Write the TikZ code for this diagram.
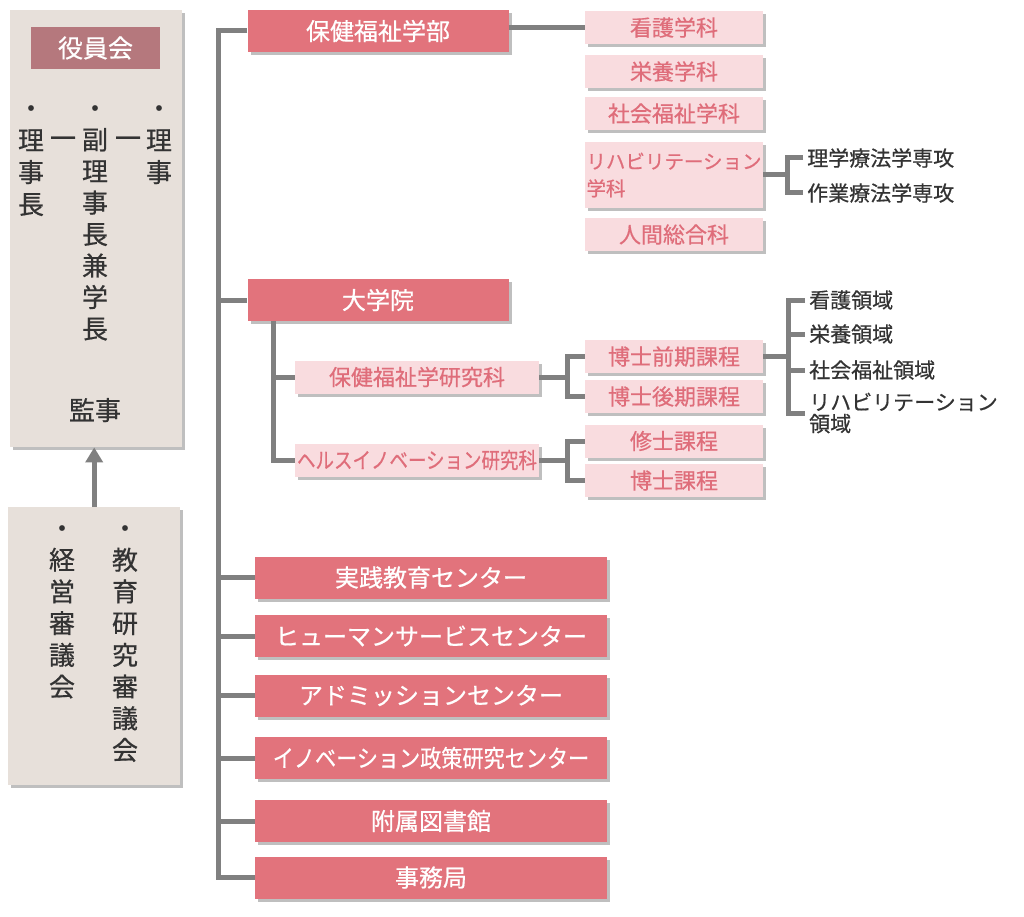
\documentclass[tikz,border=0pt]{standalone}
\usepackage{fontspec}
\usepackage{graphicx}
\usetikzlibrary{shadows,arrows.meta}
\newfontfamily\jp[FakeBold=0.6]{Noto Sans CJK JP}
\definecolor{bigc}{HTML}{E2737C}
\definecolor{smallc}{HTML}{F9DCDF}
\definecolor{smalltxt}{HTML}{DF6D7A}
\definecolor{panelc}{HTML}{E7E0DA}
\definecolor{boardc}{HTML}{B5787D}
\definecolor{linec}{HTML}{808080}
\definecolor{darktxt}{HTML}{333333}

\begin{document}
\begin{tikzpicture}[x=1pt, y=1pt,
  boxshadow/.style={drop shadow={shadow xshift=3pt, shadow yshift=-3pt, fill=black, opacity=0.25}},
  bigbox/.style={rectangle, fill=bigc, boxshadow, text=white, font=\jp\fontsize{24}{28}\selectfont, inner sep=0pt, minimum height=42pt},
  smallbox/.style={rectangle, fill=smallc, boxshadow, text=smalltxt, font=\jp\fontsize{22}{26}\selectfont, inner sep=0pt, minimum width=178pt, minimum height=33pt},
  panel/.style={rectangle, fill=panelc, boxshadow, inner sep=0pt, anchor=north west},
  tatechar/.style={text=darktxt, font=\jp\fontsize{26}{30}\selectfont, inner sep=0pt, text height=22.9pt, text depth=3.1pt},
  leaf/.style={anchor=west, text=darktxt, font=\jp\fontsize{21}{22}\selectfont, inner xsep=4pt, inner ysep=0pt, align=left},
  link/.style={draw=linec, line width=5pt}]

    \useasboundingbox (0,0) rectangle (1024,-917);

    % left panels
    \node[panel, minimum width=172pt, minimum height=437pt] (board) at (10,-10) {};
    \node[rectangle, fill=boardc, text=white, font=\jp\fontsize{25}{28}\selectfont, minimum width=129pt, minimum height=42pt] (boardlbl) at (95.5,-48) {役員会};
    \foreach \kan [count=\i] in {・,理,事,長}
      \node[tatechar] (rij-\i) at (31,{-108-32*(\i-1)}) {\kan};
    \foreach \kan [count=\i] in {・,副,理,事,長,兼,学,長}
      \node[tatechar] (fuk-\i) at (95,{-108-31.5*(\i-1)}) {\kan};
    \foreach \kan [count=\i] in {・,理,事}
      \node[tatechar] (rit-\i) at (159,{-108-32*(\i-1)}) {\kan};
    \node[tatechar] (dash1) at (63,-138) {一};
    \node[tatechar] (dash2) at (128,-138) {一};
    \node[tatechar] (kanji) at (95,-410) {監事};

    \node[panel, minimum width=172pt, minimum height=278pt] (council) at (8,-507) {};
    \foreach \kan [count=\i] in {・,経,営,審,議,会}
      \node[tatechar] (kei-\i) at (62,{-528-31.7*(\i-1)}) {\kan};
    \foreach \kan [count=\i] in {・,教,育,研,究,審,議,会}
      \node[tatechar] (kyo-\i) at (125,{-528-31.7*(\i-1)}) {\kan};

    \draw[link, -{Triangle[width=17pt, length=15pt]}] (council.north) -- (council.north |- board.south);

    % main column
    \node[bigbox, minimum width=261pt] (gakubu) at (378,-31) {保健福祉学部};
    \node[bigbox, minimum width=261pt, below of=gakubu, node distance=269pt] (daigakuin) {大学院};
    \node[bigbox, minimum width=352pt] (jissen) at (431,-577.5) {実践教育センター};
    \node[bigbox, minimum width=352pt, below of=jissen, node distance=58.5pt] (human) {ヒューマンサービスセンター};
    \node[bigbox, minimum width=352pt, below of=human, node distance=59.5pt] (admission) {アドミッションセンター};
    \node[bigbox, minimum width=352pt, below of=admission, node distance=62.5pt] (innov) {\scalebox{0.88}[1]{イノベーション政策研究センター}};
    \node[bigbox, minimum width=352pt, below of=innov, node distance=63pt] (library) {附属図書館};
    \node[bigbox, minimum width=352pt, below of=library, node distance=56.5pt] (jimu) {事務局};
    \coordinate (trunk) at (218,0);

    % departments
    \node[smallbox] (kango) at (674,-27.5) {看護学科};
    \node[smallbox, below of=kango, node distance=44pt] (eiyo) {栄養学科};
    \node[smallbox, below of=eiyo, node distance=42pt] (shakai) {社会福祉学科};
    \node[smallbox, below of=shakai, node distance=61.5pt, minimum height=66pt, align=left, font=\jp\fontsize{19.5}{27}\selectfont] (riha) {リハビリテーション\\学科};
    \node[smallbox, below of=riha, node distance=59.5pt] (ningen) {人間総合科};
    \node[leaf] (rigaku) at (803,-158) {理学療法学専攻};
    \node[leaf] (sagyo) at (803,-193) {作業療法学専攻};
    \coordinate (br0) at (787,0);

    % graduate school
    \node[smallbox, minimum width=244pt] (hofuku) at (417,-377) {保健福祉学研究科};
    \node[smallbox, minimum width=244pt, below of=hofuku, node distance=83pt] (health) {\scalebox{0.84}[1]{ヘルスイノベーション研究科}};
    \node[smallbox] (zenki) at (674,-356.5) {博士前期課程};
    \node[smallbox, below of=zenki, node distance=40pt] (kouki) {博士後期課程};
    \node[smallbox, below of=kouki, node distance=44.5pt] (shushi) {修士課程};
    \node[smallbox, below of=shushi, node distance=39.5pt] (hakase) {博士課程};
    \node[leaf] (kangor) at (805,-300) {看護領域};
    \node[leaf] (eiyor) at (805,-334) {栄養領域};
    \node[leaf] (shakair) at (805,-370) {社会福祉領域};
    \node[leaf, font=\jp\fontsize{21}{21.5}\selectfont] (rihar) at (805,-413) {リハビリテーション\\領域};
    \coordinate (gsub) at (273,-321);
    \coordinate (br1) at (567,0);
    \coordinate (br2) at (788,0);

    \draw[link] (gakubu.west) -| (trunk |- jimu.west) -- (jimu.west);
    \foreach \n in {daigakuin, jissen, human, admission, innov, library}
      \draw[link] (trunk |- \n.west) -- (\n.west);
    \draw[link] (kango.west -| gakubu.east) -- (kango.west);
    \draw[link] (riha.east) -- (br0 |- riha.east);
    \draw[link] (rigaku.west) -| (br0 |- sagyo.west) -- (sagyo.west);

    \draw[link] (gsub) |- (health.west);
    \draw[link] (gsub |- hofuku.west) -- (hofuku.west);
    \draw[link] (hofuku.east) -- (br1 |- hofuku.east);
    \draw[link] (zenki.west) -| (br1 |- kouki.west) -- (kouki.west);
    \draw[link] (health.east) -- (br1 |- health.east);
    \draw[link] (shushi.west) -| (br1 |- hakase.west) -- (hakase.west);
    \draw[link] (zenki.east) -- (br2 |- zenki.east);
    \draw[link] (kangor.west) -| (br2 |- rihar.west) -- (rihar.west);
    \draw[link] (br2 |- eiyor.west) -- (eiyor.west);
    \draw[link] (br2 |- shakair.west) -- (shakair.west);

  \end{tikzpicture}
\end{document}
